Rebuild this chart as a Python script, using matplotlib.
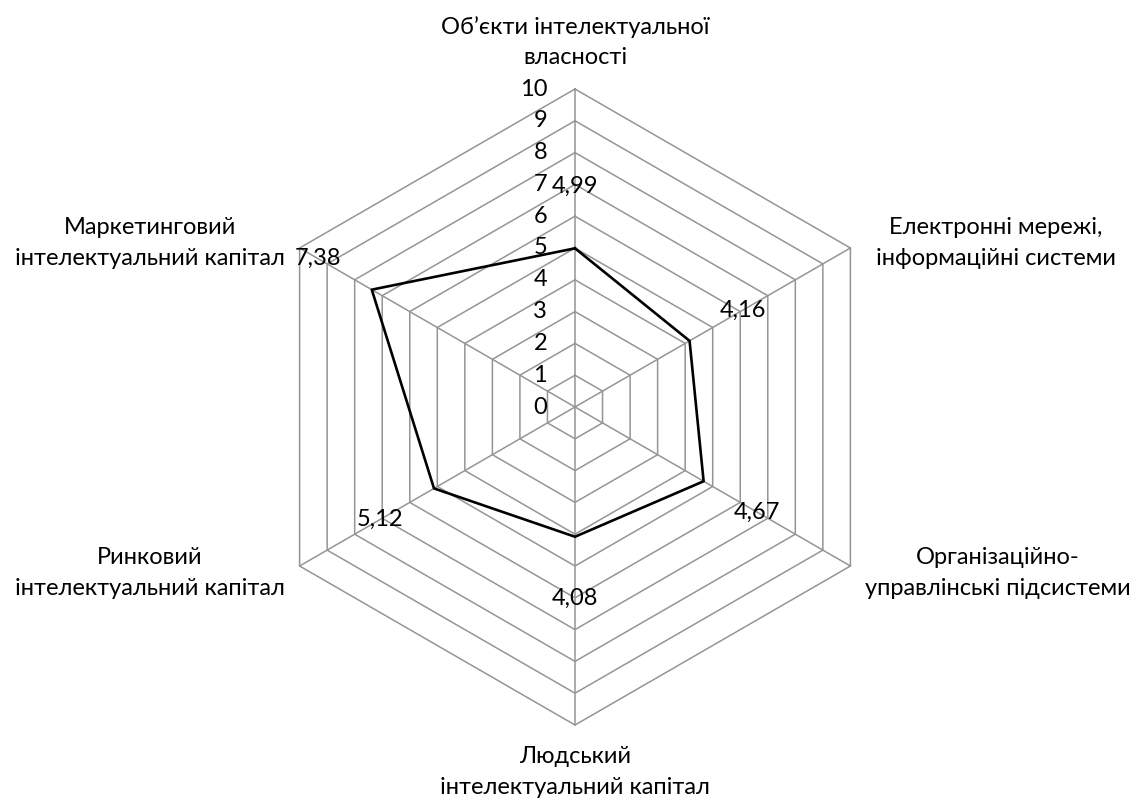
import numpy as np
import matplotlib.pyplot as plt

# categories go clockwise starting from the top
categories = [
    "Об’єкти інтелектуальної\nвласності",
    "Електронні мережі,\nінформаційні системи",
    "Організаційно-\nуправлінські підсистеми",
    "Людський\nінтелектуальний капітал",
    "Ринковий\nінтелектуальний капітал",
    "Маркетинговий\nінтелектуальний капітал",
]
values = [4.99, 4.16, 4.67, 4.08, 5.12, 7.38]
value_labels = ["4,99", "4,16", "4,67", "4,08", "5,12", "7,38"]
ticks = list(range(0, 11))

# where the category names sit (data units, centre = 0,0)
label_pos = [(0, 11.48), (13.24, 5.16), (13.3, -5.22),
             (0, -11.48), (-13.36, -5.22), (-13.36, 5.16)]

W, H = 1137, 802
cx, cy = 575, 407      # chart centre in pixels
s = 31.8               # pixels per unit

plt.rcParams['font.family'] = ['Lato', 'DejaVu Sans']

fig = plt.figure(figsize=(W / 100, H / 100), dpi=100)
ax = fig.add_axes([0, 0, 1, 1])
ax.set_xlim(-cx / s, (W - cx) / s)
ax.set_ylim(-(H - cy) / s, cy / s)
ax.axis('off')

n = len(categories)
ang = np.deg2rad(90 - 60 * np.arange(n))
ux, uy = np.cos(ang), np.sin(ang)

grid_col = '#959595'
# rings
for t in ticks[1:]:
    ax.plot(np.append(ux, ux[0]) * t, np.append(uy, uy[0]) * t,
            color=grid_col, lw=1.1, zorder=1)
# spokes
for i in range(n):
    ax.plot([0, ux[i] * ticks[-1]], [0, uy[i] * ticks[-1]],
            color=grid_col, lw=1.1, zorder=1)

# series
v = np.array(values)
ax.plot(np.append(ux * v, ux[0] * v[0]), np.append(uy * v, uy[0] * v[0]),
        color='black', lw=1.9, zorder=3)

fs = 17

# axis tick labels
for t in ticks:
    ax.text(-0.88, t, str(t), ha='right', va='center', fontsize=fs, zorder=4)

# data labels
for i in range(n):
    r = values[i] + 1.95
    ax.text(ux[i] * r, uy[i] * r, value_labels[i], ha='center', va='center',
            fontsize=fs, zorder=4)

# category labels
for (x, y), name in zip(label_pos, categories):
    ax.text(x, y, name, ha='center', va='center', fontsize=fs,
            linespacing=1.55, multialignment='center')

fig.savefig('out.png', dpi=100)
